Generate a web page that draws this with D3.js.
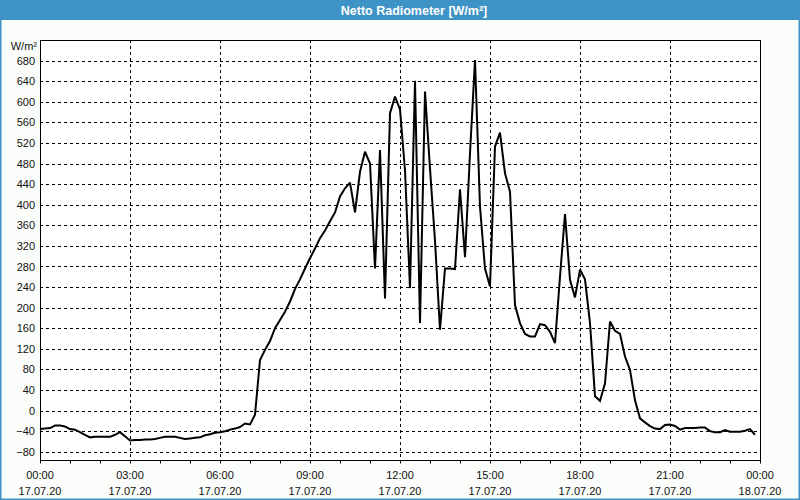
<!DOCTYPE html>
<html>
<head>
<meta charset="utf-8">
<script src="https://cdn.jsdelivr.net/npm/d3@7"></script>
<style>
  html, body { margin: 0; padding: 0; background: #fbfdfb; }
  svg { display: block; }
</style>
</head>
<body>
<svg id="chart" width="800" height="500"></svg>
<script>
// ---- data ----
const chartTitle = "Netto Radiometer [W/m²]";
const unitLabel = "W/m²";
const startTime = "2020-07-17T00:00:00";
const stepMinutes = 10;
// Netto radiation, one value every 10 minutes from 00:00
const values = [
  -36, -35, -34, -29, -29, -31, -36, -37, -42, -47, -52, -51,
  -51, -51, -51, -47, -42, -50, -58, -57, -57, -56, -56, -55,
  -53, -51, -51, -51, -53, -55, -54, -53, -52, -48, -46, -43,
  -42, -40, -37, -35, -32, -25, -27, -8, 98, 118, 135, 160,
  176, 192, 212, 236, 255, 276, 296, 315, 335, 350, 368, 385,
  416, 432, 443, 385, 464, 503, 480, 276, 506, 218, 578, 610,
  585, 467, 238, 641, 170, 620, 470, 330, 157, 276, 276, 275,
  430, 298, 500, 681, 396, 276, 241, 513, 540, 461, 425, 205,
  170, 149, 144, 144, 168, 166, 153, 131, 260, 382, 254, 220,
  274, 255, 170, 28, 19, 53, 173, 155, 149, 105, 79, 20,
  -15, -23, -30, -35, -36, -28, -27, -30, -37, -34, -34, -34,
  -33, -33, -40, -42, -42, -38, -41, -41, -41, -39, -36, -47
];
const yTicks = [-80, -40, 0, 40, 80, 120, 160, 200, 240, 280, 320, 360, 400, 440, 480, 520, 560, 600, 640, 680];
const xTickHours = [0, 3, 6, 9, 12, 15, 18, 21, 24];

// ---- layout ----
const svg = d3.select("#chart");
const W = 800, H = 500;
const plot = { left: 40, top: 40, right: 760, bottom: 460 };
const blue = "#3d93c5";
const font = "'Liberation Sans', Arial, sans-serif";

const t0 = new Date(startTime);
const t1 = d3.timeHour.offset(t0, 24);
const series = values.map((v, i) => ({ t: d3.timeMinute.offset(t0, i * stepMinutes), v }));

const x = d3.scaleTime().domain([t0, t1]).range([plot.left, plot.right]);
const y = d3.scaleLinear().domain([-96, 720]).range([plot.bottom, plot.top]);

// background
svg.append("rect").attr("x", 0).attr("y", 0).attr("width", W).attr("height", H).attr("fill", "#fbfdfb");
svg.append("rect").attr("x", plot.left).attr("y", plot.top)
  .attr("width", plot.right - plot.left).attr("height", plot.bottom - plot.top).attr("fill", "#ffffff");

// title bar
svg.append("rect").attr("x", 0).attr("y", 0).attr("width", W).attr("height", 20).attr("fill", blue);
svg.append("text").attr("x", 414).attr("y", 14.5).attr("text-anchor", "middle")
  .attr("fill", "#ffffff").attr("font-family", font).attr("font-weight", "bold")
  .attr("font-size", "12.5px").text(chartTitle);

// outer border
svg.append("rect").attr("x", 0.75).attr("y", 0.75).attr("width", W - 1.5).attr("height", H - 1.5)
  .attr("fill", "none").attr("stroke", blue).attr("stroke-width", 1.5);

// grid
const tickTimes = xTickHours.map(h => d3.timeHour.offset(t0, h));
svg.append("g").selectAll("line").data(yTicks).join("line")
  .attr("x1", plot.left).attr("x2", plot.right)
  .attr("y1", d => Math.round(y(d)) + 0.5).attr("y2", d => Math.round(y(d)) + 0.5)
  .attr("stroke", "#000").attr("stroke-width", 1).attr("stroke-dasharray", "3,3");
svg.append("g").selectAll("line").data(tickTimes.slice(1, -1)).join("line")
  .attr("x1", d => Math.round(x(d)) + 0.5).attr("x2", d => Math.round(x(d)) + 0.5)
  .attr("y1", plot.top).attr("y2", plot.bottom)
  .attr("stroke", "#000").attr("stroke-width", 1).attr("stroke-dasharray", "3,3");

// frame
svg.append("rect").attr("x", plot.left + 0.5).attr("y", plot.top + 0.5)
  .attr("width", plot.right - plot.left).attr("height", plot.bottom - plot.top)
  .attr("fill", "none").attr("stroke", "#000").attr("stroke-width", 1);

// y axis labels
const yAxis = d3.axisLeft(y).tickValues(yTicks).tickSize(0).tickPadding(5);
const gy = svg.append("g").attr("transform", `translate(${plot.left},0)`).call(yAxis);
gy.select(".domain").remove();
gy.selectAll("text").attr("font-family", font).attr("font-size", "11px").attr("fill", "#111");

svg.append("text").attr("x", 37).attr("y", 50).attr("text-anchor", "end")
  .attr("font-family", font).attr("font-size", "11px").attr("fill", "#111").text(unitLabel);

// x axis ticks (hourly) and labels
const xAxis = d3.axisBottom(x).ticks(d3.timeHour.every(1)).tickSize(3).tickFormat("");
const gx = svg.append("g").attr("transform", `translate(0,${plot.bottom + 0.5})`).call(xAxis);
gx.select(".domain").remove();
gx.selectAll("line").attr("stroke", "#000");

const fmtTime = d3.timeFormat("%H:%M");
const fmtDate = d3.timeFormat("%d.%m.%y");
const lbl = svg.append("g").selectAll("g").data(tickTimes).join("g")
  .attr("transform", d => `translate(${x(d)},0)`);
lbl.append("text").attr("y", 479).attr("text-anchor", "middle")
  .attr("font-family", font).attr("font-size", "11px").attr("fill", "#111").text(d => fmtTime(d));
lbl.append("text").attr("y", 495).attr("text-anchor", "middle")
  .attr("font-family", font).attr("font-size", "11px").attr("fill", "#111").text(d => fmtDate(d));

// data line
const line = d3.line().x(d => x(d.t)).y(d => y(d.v));
svg.append("path").datum(series).attr("d", line)
  .attr("fill", "none").attr("stroke", "#000").attr("stroke-width", 2)
  .attr("stroke-linejoin", "miter").attr("stroke-miterlimit", 2);
</script>
</body>
</html>
